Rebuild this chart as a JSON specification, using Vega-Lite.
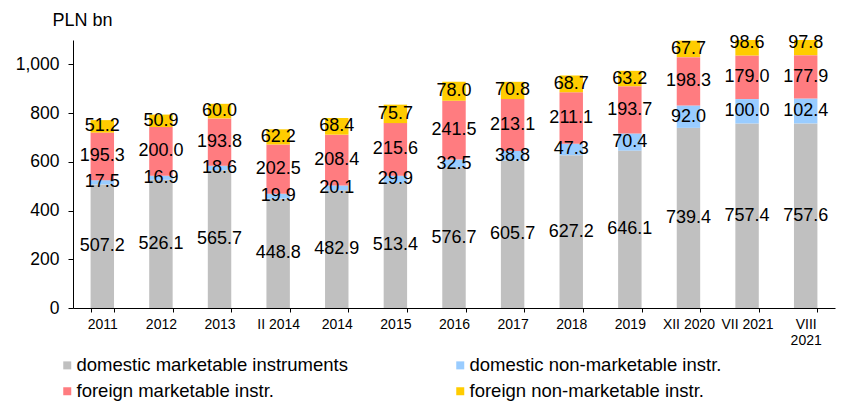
{
  "$schema": "https://vega.github.io/schema/vega-lite/v6.json",
  "width": 762,
  "height": 268,
  "autosize": {"type": "none"},
  "padding": {"left": 73, "top": 40, "right": 14, "bottom": 95},
  "background": "white",
  "config": {
    "view": {"stroke": null},
    "font": "Liberation Sans",
    "axis": {"grid": false, "domainColor": "#000000", "tickColor": "#000000", "labelColor": "#000000", "titleColor": "#000000", "labelFont": "Liberation Sans", "titleFont": "Liberation Sans"}
  },
  "data": {
    "values": [
      {"period": "2011", "series": "domestic marketable instruments", "ord": 1, "value": 507.2},
      {"period": "2011", "series": "domestic non-marketable instr.", "ord": 2, "value": 17.5},
      {"period": "2011", "series": "foreign marketable instr.", "ord": 3, "value": 195.3},
      {"period": "2011", "series": "foreign non-marketable instr.", "ord": 4, "value": 51.2},
      {"period": "2012", "series": "domestic marketable instruments", "ord": 1, "value": 526.1},
      {"period": "2012", "series": "domestic non-marketable instr.", "ord": 2, "value": 16.9},
      {"period": "2012", "series": "foreign marketable instr.", "ord": 3, "value": 200.0},
      {"period": "2012", "series": "foreign non-marketable instr.", "ord": 4, "value": 50.9},
      {"period": "2013", "series": "domestic marketable instruments", "ord": 1, "value": 565.7},
      {"period": "2013", "series": "domestic non-marketable instr.", "ord": 2, "value": 18.6},
      {"period": "2013", "series": "foreign marketable instr.", "ord": 3, "value": 193.8},
      {"period": "2013", "series": "foreign non-marketable instr.", "ord": 4, "value": 60.0},
      {"period": "II 2014", "series": "domestic marketable instruments", "ord": 1, "value": 448.8},
      {"period": "II 2014", "series": "domestic non-marketable instr.", "ord": 2, "value": 19.9},
      {"period": "II 2014", "series": "foreign marketable instr.", "ord": 3, "value": 202.5},
      {"period": "II 2014", "series": "foreign non-marketable instr.", "ord": 4, "value": 62.2},
      {"period": "2014", "series": "domestic marketable instruments", "ord": 1, "value": 482.9},
      {"period": "2014", "series": "domestic non-marketable instr.", "ord": 2, "value": 20.1},
      {"period": "2014", "series": "foreign marketable instr.", "ord": 3, "value": 208.4},
      {"period": "2014", "series": "foreign non-marketable instr.", "ord": 4, "value": 68.4},
      {"period": "2015", "series": "domestic marketable instruments", "ord": 1, "value": 513.4},
      {"period": "2015", "series": "domestic non-marketable instr.", "ord": 2, "value": 29.9},
      {"period": "2015", "series": "foreign marketable instr.", "ord": 3, "value": 215.6},
      {"period": "2015", "series": "foreign non-marketable instr.", "ord": 4, "value": 75.7},
      {"period": "2016", "series": "domestic marketable instruments", "ord": 1, "value": 576.7},
      {"period": "2016", "series": "domestic non-marketable instr.", "ord": 2, "value": 32.5},
      {"period": "2016", "series": "foreign marketable instr.", "ord": 3, "value": 241.5},
      {"period": "2016", "series": "foreign non-marketable instr.", "ord": 4, "value": 78.0},
      {"period": "2017", "series": "domestic marketable instruments", "ord": 1, "value": 605.7},
      {"period": "2017", "series": "domestic non-marketable instr.", "ord": 2, "value": 38.8},
      {"period": "2017", "series": "foreign marketable instr.", "ord": 3, "value": 213.1},
      {"period": "2017", "series": "foreign non-marketable instr.", "ord": 4, "value": 70.8},
      {"period": "2018", "series": "domestic marketable instruments", "ord": 1, "value": 627.2},
      {"period": "2018", "series": "domestic non-marketable instr.", "ord": 2, "value": 47.3},
      {"period": "2018", "series": "foreign marketable instr.", "ord": 3, "value": 211.1},
      {"period": "2018", "series": "foreign non-marketable instr.", "ord": 4, "value": 68.7},
      {"period": "2019", "series": "domestic marketable instruments", "ord": 1, "value": 646.1},
      {"period": "2019", "series": "domestic non-marketable instr.", "ord": 2, "value": 70.4},
      {"period": "2019", "series": "foreign marketable instr.", "ord": 3, "value": 193.7},
      {"period": "2019", "series": "foreign non-marketable instr.", "ord": 4, "value": 63.2},
      {"period": "XII 2020", "series": "domestic marketable instruments", "ord": 1, "value": 739.4},
      {"period": "XII 2020", "series": "domestic non-marketable instr.", "ord": 2, "value": 92.0},
      {"period": "XII 2020", "series": "foreign marketable instr.", "ord": 3, "value": 198.3},
      {"period": "XII 2020", "series": "foreign non-marketable instr.", "ord": 4, "value": 67.7},
      {"period": "VII 2021", "series": "domestic marketable instruments", "ord": 1, "value": 757.4},
      {"period": "VII 2021", "series": "domestic non-marketable instr.", "ord": 2, "value": 100.0},
      {"period": "VII 2021", "series": "foreign marketable instr.", "ord": 3, "value": 179.0},
      {"period": "VII 2021", "series": "foreign non-marketable instr.", "ord": 4, "value": 98.6},
      {"period": "VIII 2021", "series": "domestic marketable instruments", "ord": 1, "value": 757.6},
      {"period": "VIII 2021", "series": "domestic non-marketable instr.", "ord": 2, "value": 102.4},
      {"period": "VIII 2021", "series": "foreign marketable instr.", "ord": 3, "value": 177.9},
      {"period": "VIII 2021", "series": "foreign non-marketable instr.", "ord": 4, "value": 97.8}
    ]
  },
  "transform": [
    {"stack": "value", "groupby": ["period"], "sort": [{"field": "ord", "order": "ascending"}], "as": ["y0", "y1"]},
    {"calculate": "(datum.y0 + datum.y1) / 2", "as": "ymid"}
  ],
  "encoding": {
    "x": {
      "field": "period",
      "type": "nominal",
      "sort": ["2011", "2012", "2013", "II 2014", "2014", "2015", "2016", "2017", "2018", "2019", "XII 2020", "VII 2021", "VIII 2021"],
      "scale": {"paddingInner": 0.6, "paddingOuter": 0.3},
      "axis": {
        "title": null,
        "labelAngle": 0,
        "labelFontSize": 14,
        "labelPadding": 5,
        "tickBand": "extent",
        "tickSize": 4,
        "labelLineHeight": 16,
        "labelExpr": "datum.value == 'VIII 2021' ? ['VIII', '2021'] : datum.value"
      }
    }
  },
  "layer": [
    {
      "mark": {"type": "bar", "clip": true},
      "encoding": {
        "y": {
          "field": "y0",
          "type": "quantitative",
          "scale": {"domain": [0, 1100], "nice": false},
          "axis": {
            "title": "PLN bn",
            "titleAngle": 0,
            "titleAlign": "left",
            "titleBaseline": "middle",
            "titleX": -21,
            "titleY": -20,
            "titleFontSize": 18,
            "titleFontWeight": "normal",
            "values": [0, 200, 400, 600, 800, 1000],
            "format": ",d",
            "labelFontSize": 17.5,
            "labelPadding": 9,
            "tickSize": 5
          }
        },
        "y2": {"field": "y1"},
        "color": {
          "field": "series",
          "type": "nominal",
          "sort": ["domestic marketable instruments", "domestic non-marketable instr.", "foreign marketable instr.", "foreign non-marketable instr."],
          "scale": {
            "domain": ["domestic marketable instruments", "domestic non-marketable instr.", "foreign marketable instr.", "foreign non-marketable instr."],
            "range": ["#C0C0C0", "#99CCFF", "#FF7C80", "#FFCC00"]
          },
          "legend": {
            "title": null,
            "orient": "none",
            "legendX": -15,
            "legendY": 316,
            "direction": "horizontal",
            "columns": 2,
            "columnPadding": 103,
            "rowPadding": 7,
            "symbolType": "square",
            "symbolSize": 64,
            "symbolStrokeWidth": 0,
            "labelFontSize": 18.5,
            "labelFont": "Liberation Sans",
            "labelColor": "#000000",
            "labelOffset": 0,
            "labelLimit": 400
          }
        }
      }
    },
    {
      "mark": {"type": "text", "fontSize": 18, "font": "Liberation Sans", "color": "#000000", "baseline": "middle", "align": "center"},
      "encoding": {
        "y": {"field": "ymid", "type": "quantitative"},
        "text": {"field": "value", "type": "quantitative", "format": ".1f"}
      }
    }
  ]
}
